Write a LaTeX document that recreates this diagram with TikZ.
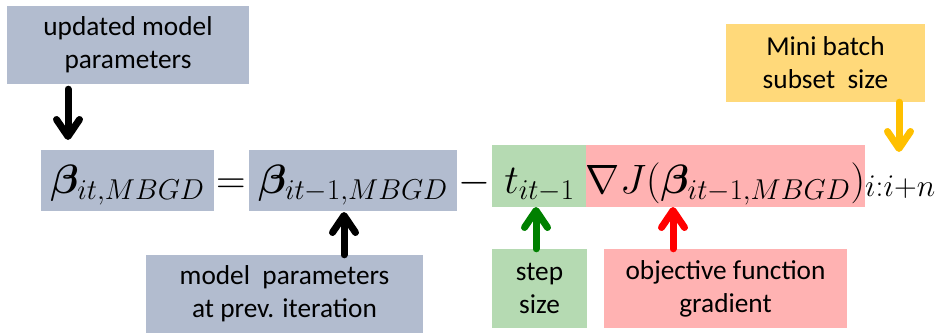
\RequirePackage{fix-cm}
\documentclass[tikz,border=0pt]{standalone}
\usepackage{amsmath,bm}
\usepackage{fontspec}
\newfontfamily\lblfont{Carlito}
\usetikzlibrary{arrows.meta}

\definecolor{parblue}{RGB}{178,188,207}
\definecolor{stepgreen}{RGB}{181,218,178}
\definecolor{gradred}{RGB}{255,178,178}
\definecolor{batchyellow}{RGB}{255,217,122}
\definecolor{arrgreen}{RGB}{0,128,0}
\definecolor{arryellow}{RGB}{255,192,0}

\begin{document}
\begin{tikzpicture}[line cap=round,line join=round,x=1pt,y=-1pt,
  lbl/.style={inner sep=0pt,align=center,font=\lblfont\fontsize{27.3}{33}\selectfont},
  term/.style={inner sep=0pt,anchor=base,font=\fontsize{41}{48}\selectfont},
  hint/.style={line width=7pt,-{Straight Barb[length=17pt,width=23pt,round]}}]
\useasboundingbox (0,0) rectangle (941,334);
% the update rule, one box per term
\node[term,fill=parblue,minimum width=173pt,text height=43pt,text depth=18pt] (bnew) at (127.5,193) {$\bm{\beta}_{it,MBGD}$};
\node[term] (eq) at (231,193) {$=$};
\node[term,fill=parblue,minimum width=208pt,text height=43pt,text depth=18pt] (bold) at (353,193) {$\bm{\beta}_{it-1,MBGD}$};
\node[term] (minus) at (474,193) {$-$};
\node[term,fill=stepgreen,minimum width=95pt,text height=48pt,text depth=14pt] (t) at (539.5,193) {$t_{it-1}$};
\node[term,fill=gradred,minimum width=277pt,text height=48pt,text depth=14pt] (grad) at (725.5,193) {$\nabla J(\bm{\beta}_{it-1,MBGD})$};
\node[term,anchor=base west,font=\fontsize{45}{50}\selectfont] (sub) at (865,190) {${}_{i:i+n}$};
% labels
\node[lbl,fill=parblue,minimum width=242pt,minimum height=78pt] (upd) at (128,45) {updated model\\ parameters};
\node[lbl,fill=parblue,minimum width=277pt,minimum height=78pt] (prev) at (284.5,294) {model\ \ parameters\\ at prev. iteration};
\node[lbl,fill=stepgreen,minimum width=95pt,minimum height=79pt] (stp) at (539.5,288.5) {step\\ size};
\node[lbl,fill=gradred,minimum width=243pt,minimum height=79pt] (grd) at (725.5,288.5) {objective function\\ gradient};
\node[lbl,fill=batchyellow,minimum width=199pt,minimum height=78pt] (mini) at (825.5,63) {Mini batch\\ subset\ \ size};
% pointers
\coordinate (p1) at (68,140);
\coordinate (p2) at (344,212);
\coordinate (p3) at (536,207);
\coordinate (p4) at (673,207);
\coordinate (p5) at (899,152);
\draw[hint,shorten <=5pt] (upd.south -| p1) -- (p1);
\draw[hint] (prev.north -| p2) -- (p2);
\draw[hint,arrgreen] (stp.north -| p3) -- (p3);
\draw[hint,red] (grd.north -| p4) -- (p4);
\draw[hint,arryellow] (mini.south -| p5) -- (p5);
\end{tikzpicture}
\end{document}
